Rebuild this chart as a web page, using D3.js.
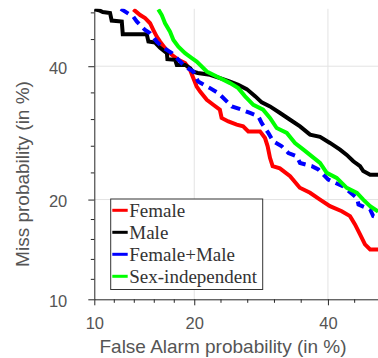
<!DOCTYPE html>
<html>
<head>
<meta charset="utf-8">
<script src="https://cdn.jsdelivr.net/npm/d3@7"></script>
<style>
  body { margin: 0; background: #fff; }
  svg { display: block; }
</style>
</head>
<body>
<div id="chart"></div>
<script>
// DET curves, values in percent
const seriesNames = ["Female", "Male", "Female+Male", "Sex-independent"];
const seriesColors = ["#ff0000", "#000000", "#0000ff", "#00ff00"];

const faFemale = [13.36, 14.01, 14.5, 15.01, 15.35, 15.7, 16.06, 16.6, 17.35, 18.1, 18.89, 19.48, 19.88, 20.3, 20.73, 21.58, 22.42, 23.3, 23.54, 24.46, 25.63, 26.55, 27.3, 29.04, 29.8, 30.2, 30.56, 30.97, 32.1, 33.73, 35.3, 36.99, 38.66, 40.35, 42.37, 43.8, 44.66, 45.54, 46.4, 47.3, 48.7];
const missFemale = [49.9, 48.9, 48.35, 47.46, 46.27, 45.12, 44.25, 43.1, 41.95, 41.09, 40.52, 39.39, 37.99, 36.58, 35.75, 34.41, 33.6, 32.81, 31.5, 30.96, 30.46, 30.2, 29.43, 29.43, 28.43, 27.2, 25.55, 24.38, 24.07, 23.0, 21.5, 20.85, 20.0, 19.2, 18.6, 18.02, 17.08, 15.98, 14.93, 14.42, 14.42];

const faMale = [10.0, 10.44, 10.67, 11.27, 11.41, 12.29, 12.38, 14.67, 14.84, 15.53, 16.06, 16.8, 16.86, 17.73, 17.92, 18.89, 19.5, 19.8, 20.43, 22.0, 23.33, 24.7, 25.85, 27.07, 28.3, 29.3, 30.56, 32.13, 33.73, 35.34, 36.99, 38.66, 40.35, 42.07, 43.23, 44.37, 45.54, 46.1, 47.3, 48.7];
const missMale = [49.9, 49.67, 49.44, 49.27, 47.93, 47.75, 45.53, 45.53, 44.25, 44.08, 43.16, 42.24, 41.21, 41.09, 40.23, 40.23, 39.68, 39.1, 38.85, 38.55, 37.99, 37.42, 36.85, 36.16, 35.0, 33.98, 33.34, 32.29, 31.23, 30.2, 28.94, 28.6, 27.7, 26.72, 25.96, 25.06, 24.38, 23.7, 23.2, 23.2];

const faBoth = [12.2, 13.36, 13.7, 14.5, 15.01, 15.7, 16.24, 17.35, 17.92, 18.89, 19.88, 20.48, 22.0, 23.1, 24.24, 24.94, 26.35, 27.55, 28.79, 29.3, 30.3, 31.07, 32.4, 33.46, 34.8, 35.34, 37.29, 38.38, 40.06, 40.64, 42.64, 43.23, 45.0, 45.27, 47.3, 47.85, 48.7];
const missBoth = [50.0, 48.6, 47.75, 46.27, 45.7, 44.25, 43.38, 42.24, 41.4, 39.94, 39.1, 37.42, 36.32, 35.5, 34.14, 33.34, 32.81, 32.29, 31.75, 30.7, 29.2, 27.93, 27.2, 26.23, 25.75, 24.82, 24.38, 23.92, 22.56, 22.33, 21.67, 21.26, 20.2, 19.39, 18.8, 18.02, 17.85];

const faIndep = [15.87, 16.24, 16.6, 17.15, 17.53, 18.1, 18.89, 19.7, 20.3, 21.58, 22.88, 24.7, 25.85, 26.8, 28.04, 29.5, 30.56, 31.6, 33.2, 34.52, 35.9, 37.29, 38.66, 39.8, 41.49, 43.23, 45.0, 46.1, 47.3, 48.7];
const missIndep = [49.9, 48.9, 47.46, 45.99, 44.54, 43.38, 42.24, 41.4, 40.8, 39.1, 38.26, 37.15, 36.32, 35.0, 33.6, 32.81, 31.5, 29.95, 29.2, 27.7, 26.72, 25.75, 24.82, 23.46, 22.78, 21.47, 20.85, 20.0, 19.2, 18.56];

const majorTicks = [10, 20, 40];
const tickLabels = ["10", "20", "40"];
const axisRange = [10, 50];

const width = 378, height = 358;
const margin = { left: 94.3, top: 8.8, bottom: 58.7 };

// inverse normal CDF (Acklam)
function probit(p) {
  const a = [-3.969683028665376e+01, 2.209460984245205e+02, -2.759285104469687e+02, 1.383577518672690e+02, -3.066479806614716e+01, 2.506628277459239e+00];
  const b = [-5.447609879822406e+01, 1.615858368580409e+02, -1.556989798598866e+02, 6.680131188771972e+01, -1.328068155288572e+01];
  const c = [-7.784894002430293e-03, -3.223964580411365e-01, -2.400758277161838e+00, -2.549732539343734e+00, 4.374664141464968e+00, 2.938163982698783e+00];
  const d = [7.784695709041462e-03, 3.224671290700398e-01, 2.445134137142996e+00, 3.754408661907416e+00];
  const plow = 0.02425;
  let q, r;
  if (p < plow) {
    q = Math.sqrt(-2 * Math.log(p));
    return (((((c[0]*q+c[1])*q+c[2])*q+c[3])*q+c[4])*q+c[5]) / ((((d[0]*q+d[1])*q+d[2])*q+d[3])*q+1);
  }
  if (p > 1 - plow) {
    q = Math.sqrt(-2 * Math.log(1 - p));
    return -(((((c[0]*q+c[1])*q+c[2])*q+c[3])*q+c[4])*q+c[5]) / ((((d[0]*q+d[1])*q+d[2])*q+d[3])*q+1);
  }
  q = p - 0.5; r = q * q;
  return (((((a[0]*r+a[1])*r+a[2])*r+a[3])*r+a[4])*r+a[5])*q / (((((b[0]*r+b[1])*r+b[2])*r+b[3])*r+b[4])*r+1);
}
const pz = v => probit(v / 100);

const plotW = 291.2; // axis extends past the right edge of the picture
const plotH = height - margin.top - margin.bottom;

const xLin = d3.scaleLinear().domain(axisRange.map(pz)).range([margin.left, margin.left + plotW]);
const yLin = d3.scaleLinear().domain(axisRange.map(pz)).range([margin.top + plotH, margin.top]);
const x = v => xLin(pz(v));
const y = v => yLin(pz(v));

// minor ticks: five even steps (in probit units) between majors, continued above last major
function minorTicks() {
  const z = majorTicks.map(pz);
  const out = [];
  for (let i = 0; i < z.length - 1; i++) {
    const step = (z[i + 1] - z[i]) / 5;
    for (let k = 1; k < 5; k++) out.push(z[i] + k * step);
  }
  const last = (z[z.length - 1] - z[z.length - 2]) / 5;
  for (let v = z[z.length - 1] + last; v <= 0.0001; v += last) out.push(v);
  return out;
}
const minors = minorTicks();

const svg = d3.select("#chart").append("svg")
  .attr("width", width)
  .attr("height", height)
  .style("font-family", "'Liberation Sans', Arial, Helvetica, sans-serif");

svg.append("defs").append("clipPath").attr("id", "plotClip")
  .append("rect")
  .attr("x", margin.left).attr("y", margin.top)
  .attr("width", plotW).attr("height", plotH);

// grid
const grid = svg.append("g").attr("stroke", "#e3e3e3").attr("stroke-width", 1);
grid.selectAll("line.gx").data(majorTicks.slice(1)).join("line")
  .attr("x1", d => x(d)).attr("x2", d => x(d))
  .attr("y1", margin.top).attr("y2", margin.top + plotH);
grid.selectAll("line.gy").data(majorTicks.slice(1)).join("line")
  .attr("x1", margin.left).attr("x2", margin.left + plotW)
  .attr("y1", d => y(d)).attr("y2", d => y(d));

// axes
const axisColor = "#262626";
const xAxis = svg.append("g")
  .attr("transform", `translate(0,${margin.top + plotH})`)
  .call(d3.axisBottom(xLin).tickValues(majorTicks.map(pz)).tickFormat((d, i) => tickLabels[i]).tickSize(6).tickSizeOuter(0));
xAxis.append("g").selectAll("line").data(minors).join("line")
  .attr("x1", d => xLin(d)).attr("x2", d => xLin(d))
  .attr("y1", 0).attr("y2", 3.5);

const yAxis = svg.append("g")
  .attr("transform", `translate(${margin.left},0)`)
  .call(d3.axisLeft(yLin).tickValues(majorTicks.map(pz)).tickFormat((d, i) => tickLabels[i]).tickSize(6).tickSizeOuter(0));
yAxis.append("g").selectAll("line").data(minors).join("line")
  .attr("y1", d => yLin(d)).attr("y2", d => yLin(d))
  .attr("x1", 0).attr("x2", -3.5);

svg.selectAll(".domain, .tick line").attr("stroke", axisColor).attr("stroke-width", 1);
xAxis.selectAll("g > line").attr("stroke", axisColor);
yAxis.selectAll("g > line").attr("stroke", axisColor);
xAxis.selectAll(".tick text").attr("font-size", 16.5).attr("fill", "#555").attr("font-family", null).attr("dy", "1.25em");
yAxis.selectAll(".tick text").attr("font-size", 16.5).attr("fill", "#555").attr("font-family", null).attr("x", -27).attr("dy", "0.42em");

// axis titles
svg.append("text")
  .attr("x", 223).attr("y", 353)
  .attr("text-anchor", "middle")
  .attr("font-size", 19).attr("fill", "#555")
  .text("False Alarm probability (in %)");
svg.append("text")
  .attr("transform", "translate(29,174) rotate(-90)")
  .attr("text-anchor", "middle")
  .attr("font-size", 19).attr("fill", "#555")
  .text("Miss probability (in %)");

// curves
const series = [
  { fa: faFemale, miss: missFemale },
  { fa: faMale, miss: missMale },
  { fa: faBoth, miss: missBoth },
  { fa: faIndep, miss: missIndep }
];
const line = d3.line().x(d => x(d[0])).y(d => y(d[1]));
svg.append("g").attr("clip-path", "url(#plotClip)")
  .selectAll("path").data(series).join("path")
  .attr("d", s => line(s.fa.map((v, i) => [v, s.miss[i]])))
  .attr("fill", "none")
  .attr("stroke", (s, i) => seriesColors[i])
  .attr("stroke-width", 4)
  .attr("stroke-linejoin", "miter")
  .attr("stroke-dasharray", (s, i) => i === 2 ? "9,6" : null);

// legend
const legend = svg.append("g").attr("transform", "translate(110.7,199)");
legend.append("rect")
  .attr("width", 152).attr("height", 90.5)
  .attr("fill", "#fff").attr("stroke", "#333").attr("stroke-width", 1);
const rows = legend.selectAll("g.row").data(seriesNames).join("g")
  .attr("transform", (d, i) => `translate(0,${11.3 + i * 22})`);
rows.append("line")
  .attr("x1", 1.6).attr("x2", 17)
  .attr("stroke", (d, i) => seriesColors[i])
  .attr("stroke-width", 3);
rows.append("text")
  .attr("x", 18.6).attr("dy", "0.35em")
  .attr("font-family", "'Liberation Serif', 'Times New Roman', serif")
  .attr("font-size", 19).attr("fill", "#333")
  .text(d => d);
</script>
</body>
</html>
